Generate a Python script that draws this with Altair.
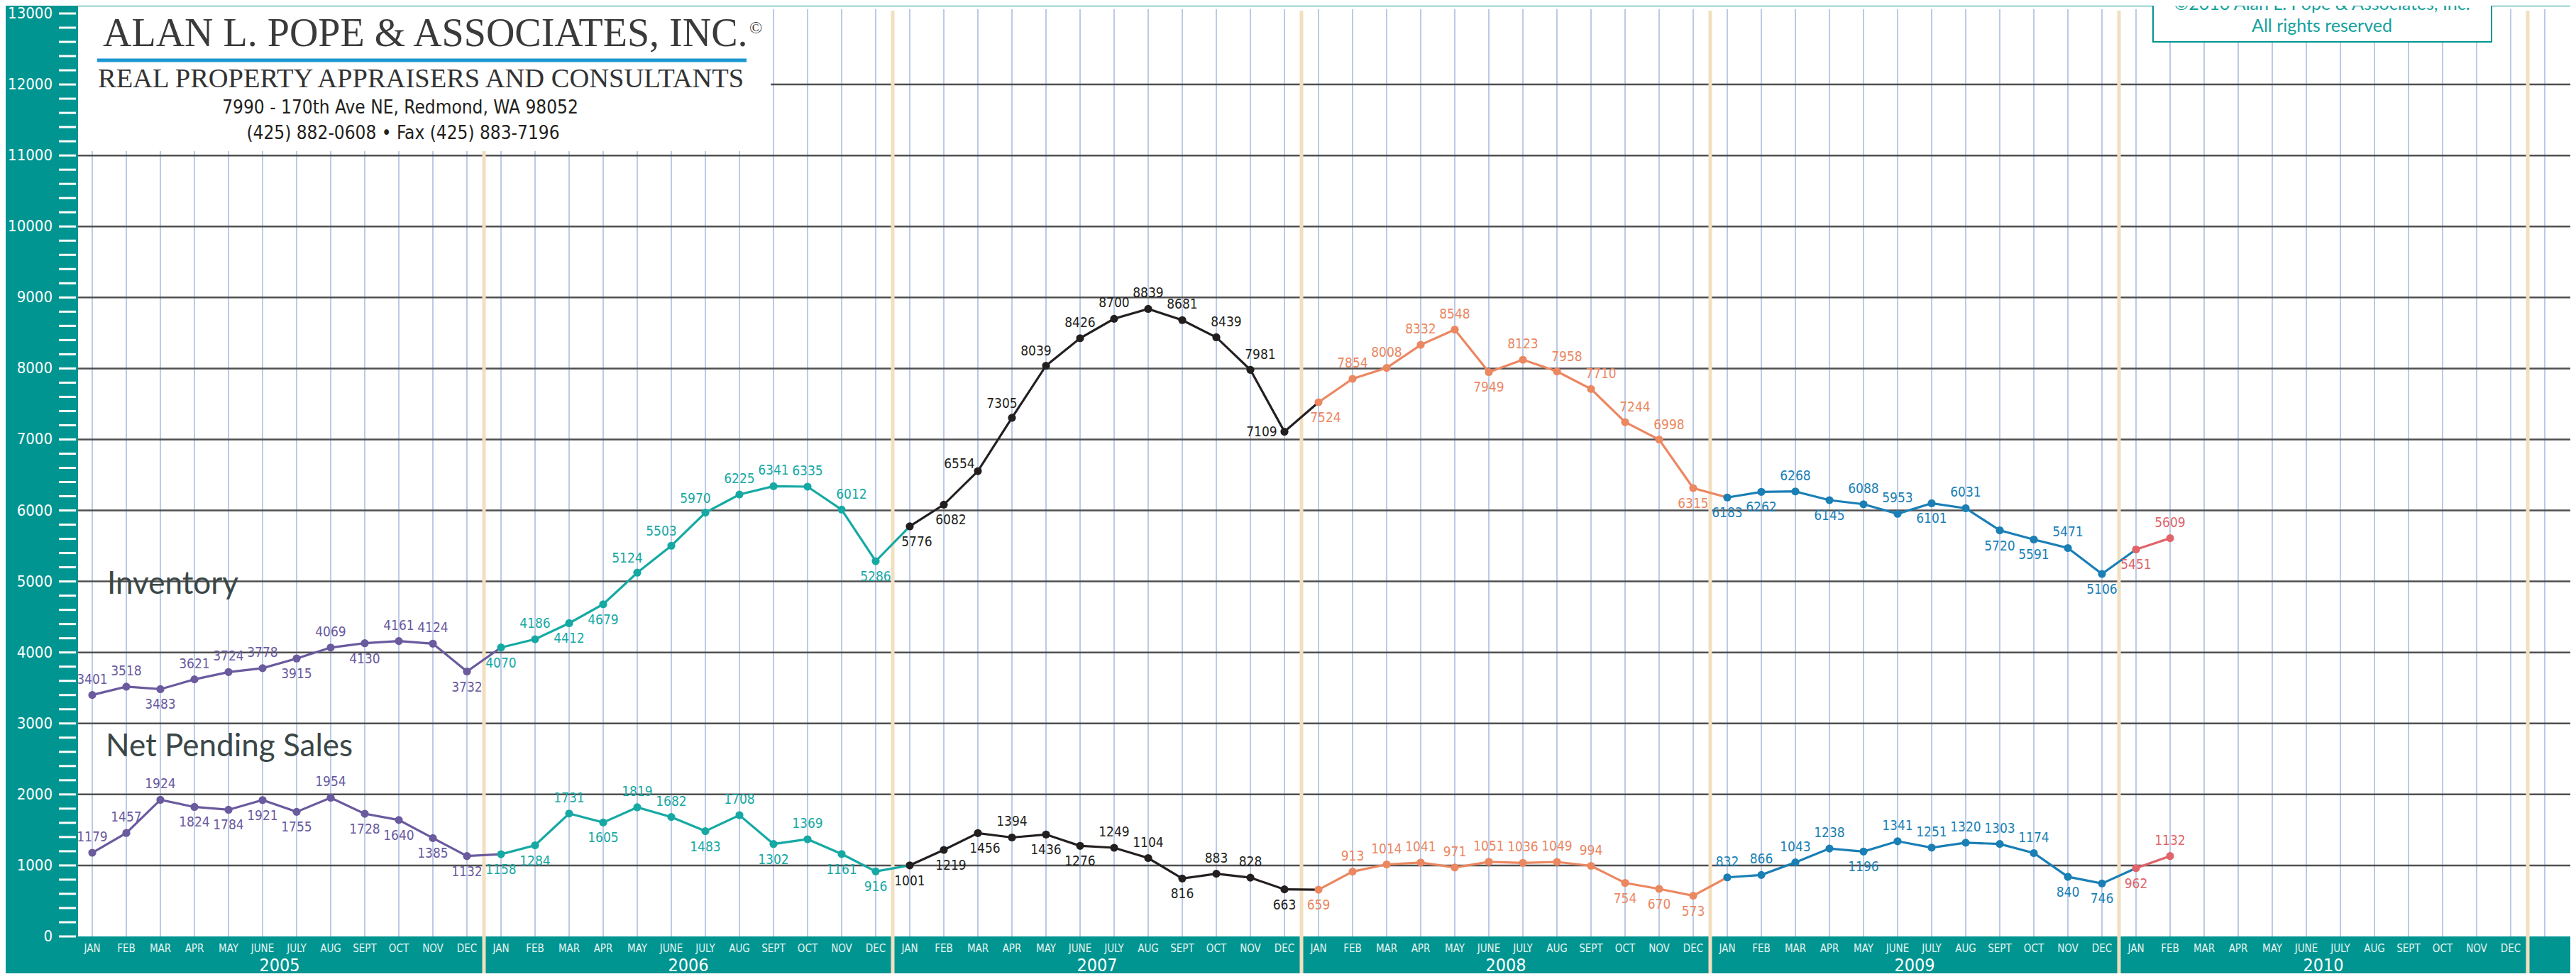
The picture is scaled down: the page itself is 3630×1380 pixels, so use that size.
import altair as alt
import pandas as pd

MONTHS = ["JAN", "FEB", "MAR", "APR", "MAY", "JUNE", "JULY", "AUG", "SEPT", "OCT", "NOV", "DEC"]
YEARS = ["2005", "2006", "2007", "2008", "2009", "2010"]
YEAR_COLORS = ["#6a5a9e", "#16a9a4", "#231f20", "#eb8761", "#1a7fb5", "#e0646a"]
Y_TICKS = list(range(0, 13001, 200))
Y_LABELS = list(range(0, 13001, 1000))
Y_GRID = list(range(1000, 12001, 1000))

inv_2005 = [3401, 3518, 3483, 3621, 3724, 3778, 3915, 4069, 4130, 4161, 4124, 3732]
inv_2006 = [4070, 4186, 4412, 4679, 5124, 5503, 5970, 6225, 6341, 6335, 6012, 5286]
inv_2007 = [5776, 6082, 6554, 7305, 8039, 8426, 8700, 8839, 8681, 8439, 7981, 7109]
inv_2008 = [7524, 7854, 8008, 8332, 8548, 7949, 8123, 7958, 7710, 7244, 6998, 6315]
inv_2009 = [6183, 6262, 6268, 6145, 6088, 5953, 6101, 6031, 5720, 5591, 5471, 5106]
inv_2010 = [5451, 5609]

pend_2005 = [1179, 1457, 1924, 1824, 1784, 1921, 1755, 1954, 1728, 1640, 1385, 1132]
pend_2006 = [1158, 1284, 1731, 1605, 1819, 1682, 1483, 1708, 1302, 1369, 1161, 916]
pend_2007 = [1001, 1219, 1456, 1394, 1436, 1276, 1249, 1104, 816, 883, 828, 663]
pend_2008 = [659, 913, 1014, 1041, 971, 1051, 1036, 1049, 994, 754, 670, 573]
pend_2009 = [832, 866, 1043, 1238, 1196, 1341, 1251, 1320, 1303, 1174, 840, 746]
pend_2010 = [962, 1132]

# label placement: A above, B below, AL/AR above-left/right, BR below-right, L left, UL up-left
inv_lab_2005 = ["A", "A", "B", "A", "A", "A", "B", "A", "B", "A", "A", "B"]
inv_lab_2006 = ["B", "A", "B", "B", "AL", "AL", "AL", "A", "A", "A", "AR", "B"]
inv_lab_2007 = ["BR", "BR", "UL", "AL", "AL", "A", "A", "A", "A", "AR", "AR", "L"]
inv_lab_2008 = ["BR", "A", "A", "A", "A", "B", "A", "AR", "AR", "AR", "AR", "B"]
inv_lab_2009 = ["B", "B", "A", "B", "A", "A", "B", "A", "B", "B", "A", "B"]
inv_lab_2010 = ["B", "A"]

pend_lab_2005 = ["A", "A", "A", "B", "B", "B", "B", "A", "B", "B", "B", "B"]
pend_lab_2006 = ["B", "B", "A", "B", "A", "A", "B", "A", "B", "A", "B", "B"]
pend_lab_2007 = ["B", "BR", "BR", "A", "B", "B", "A", "A", "B", "A", "A", "B"]
pend_lab_2008 = ["B", "A", "A", "A", "A", "A", "A", "A", "A", "B", "B", "B"]
pend_lab_2009 = ["A", "A", "A", "A", "B", "A", "A", "A", "A", "A", "B", "B"]
pend_lab_2010 = ["B", "A"]

inventory = [inv_2005, inv_2006, inv_2007, inv_2008, inv_2009, inv_2010]
pending = [pend_2005, pend_2006, pend_2007, pend_2008, pend_2009, pend_2010]
inv_labs = [inv_lab_2005, inv_lab_2006, inv_lab_2007, inv_lab_2008, inv_lab_2009, inv_lab_2010]
pend_labs = [pend_lab_2005, pend_lab_2006, pend_lab_2007, pend_lab_2008, pend_lab_2009, pend_lab_2010]

# ---------------- styling / layout ----------------
TEAL = "#009591"
BEIGE = "#f2dfbf"
GRIDBLUE = "#abbde1"
W, H = 3512, 1311
PAD_L, PAD_T, PAD_B = 102, 1, 52
MONTH_PX = 48
FIRST_PX = 20
COND_FONT = "'DejaVu Sans Condensed', 'Liberation Sans Narrow', sans-serif"
SERIF = "'Liberation Serif', 'Times New Roman', serif"
OFFSETS = {"A": (0, -22), "B": (0, 22), "AL": (-14, -20), "AR": (14, -21),
           "BR": (10, 22), "L": (-32, 0), "UL": (-26, -10)}

# ---------------- data tables ----------------
rows = []
line_rows = []
for series, vals_list, labs_list in [("Inventory", inventory, inv_labs),
                                     ("Net Pending Sales", pending, pend_labs)]:
    flat = []
    for yi, (vals, labs) in enumerate(zip(vals_list, labs_list)):
        for m, (v, p) in enumerate(zip(vals, labs)):
            flat.append({"series": series, "year": YEARS[yi], "idx": yi * 12 + m,
                         "value": v, "pos": p})
    rows += flat
    for yi in range(len(YEARS)):
        seg = [r for r in flat if r["year"] == YEARS[yi]]
        nxt = [r for r in flat if r["idx"] == (yi + 1) * 12]
        for r in seg + nxt:
            d = dict(r)
            d["seg"] = f"{series}-{YEARS[yi]}"
            d["lyear"] = YEARS[yi]
            line_rows.append(d)

df = pd.DataFrame(rows)
df_line = pd.DataFrame(line_rows)
df_sep = pd.DataFrame({"sep": [(i + 1) * 12 - 0.5 for i in range(len(YEARS))]})
df_year = pd.DataFrame({"mid": [i * 12 + 5.5 for i in range(len(YEARS))], "label": YEARS})
df_month = pd.DataFrame({"idx": list(range(0, 12 * len(YEARS))),
                         "label": MONTHS * len(YEARS)})
df_mgrid = pd.DataFrame({"idx": list(range(0, 12 * len(YEARS) + 1))})
df_yticks = pd.DataFrame({"v": Y_TICKS})
df_ylabels = pd.DataFrame({"v": Y_LABELS, "label": [str(v) for v in Y_LABELS]})
df_ygrid = pd.DataFrame({"g": Y_GRID})

xscale = alt.Scale(domain=[-FIRST_PX / MONTH_PX, (W - FIRST_PX) / MONTH_PX], nice=False, zero=False)
yscale = alt.Scale(domain=[0, 13100], nice=False, zero=True)
cscale = alt.Scale(domain=YEARS, range=YEAR_COLORS)

one = alt.Data(values=[{"k": 1}])

# teal frame (left band, bottom band, thin top band)
band_left = alt.Chart(one).mark_rect(fill=TEAL).encode(
    x=alt.value(-PAD_L), x2=alt.value(0), y=alt.value(-PAD_T), y2=alt.value(H + PAD_B))
band_bottom = alt.Chart(one).mark_rect(fill=TEAL).encode(
    x=alt.value(-PAD_L), x2=alt.value(W), y=alt.value(H), y2=alt.value(H + PAD_B))
band_top = alt.Chart(one).mark_rect(fill=TEAL).encode(
    x=alt.value(-PAD_L), x2=alt.value(W), y=alt.value(-PAD_T), y2=alt.value(0))

# month grid lines and labels (x axis)
mgrid = alt.Chart(df_mgrid).mark_rule(color=GRIDBLUE, strokeWidth=1.6).encode(
    x=alt.X("idx:Q", scale=xscale, axis=None), y=alt.value(4), y2=alt.value(H))
mlabels = alt.Chart(df_month).mark_text(font=COND_FONT, fontSize=15, color="#e4f3f2",
                                        baseline="top", align="center").encode(
    x=alt.X("idx:Q", scale=xscale, axis=None), y=alt.value(H + 10), text="label:N")
year_labels = alt.Chart(df_year).mark_text(font=COND_FONT, fontSize=25, color="white",
                                           baseline="middle", align="center").encode(
    x=alt.X("mid:Q", scale=xscale, axis=None), y=alt.value(H + 41), text="label:N")

# y axis: grid, ticks, labels
ygrid = alt.Chart(df_ygrid).mark_rule(color="#4f4f4f", strokeWidth=2.5).encode(
    y=alt.Y("g:Q", scale=yscale, axis=None))
yticks = alt.Chart(df_yticks).mark_rule(color="white", strokeWidth=3).encode(
    y=alt.Y("v:Q", scale=yscale, axis=None), x=alt.value(-27), x2=alt.value(-3))
ylabels = alt.Chart(df_ylabels).mark_text(font=COND_FONT, fontSize=22, color="white",
                                          align="right", baseline="middle").encode(
    y=alt.Y("v:Q", scale=yscale, axis=None), x=alt.value(-36), text="label:N")

sep_layer = alt.Chart(df_sep).mark_rule(color=BEIGE, strokeWidth=5).encode(
    x=alt.X("sep:Q", scale=xscale, axis=None),
    y=alt.value(6), y2=alt.value(H + PAD_B))

title_box = alt.Chart(one).mark_rect(fill="white").encode(
    x=alt.value(0), x2=alt.value(976), y=alt.value(0), y2=alt.value(204))
blue_bar = alt.Chart(one).mark_rule(color="#1b98d3", strokeWidth=5).encode(
    x=alt.value(27), x2=alt.value(942), y=alt.value(76))
t_name = alt.Chart(one).mark_text(font=SERIF, fontSize=56, color="#3a3a3a", align="left",
                                  baseline="alphabetic").encode(
    x=alt.value(35), y=alt.value(56), text=alt.value("ALAN L. POPE & ASSOCIATES, INC."))
t_copy = alt.Chart(one).mark_text(font=SERIF, fontSize=24, color="#3a3a3a", align="left",
                                  baseline="middle").encode(
    x=alt.value(946), y=alt.value(31), text=alt.value("©"))
t_sub = alt.Chart(one).mark_text(font=SERIF, fontSize=38.5, color="#333333", align="left",
                                 baseline="alphabetic").encode(
    x=alt.value(28), y=alt.value(114), text=alt.value("REAL PROPERTY APPRAISERS AND CONSULTANTS"))
t_addr = alt.Chart(one).mark_text(font=COND_FONT, fontSize=26, color="#231f20", align="center",
                                  baseline="middle").encode(
    x=alt.value(454), y=alt.value(143), text=alt.value("7990 - 170th Ave NE, Redmond, WA 98052"))
t_phone = alt.Chart(one).mark_text(font=COND_FONT, fontSize=26, color="#231f20", align="center",
                                   baseline="middle").encode(
    x=alt.value(458), y=alt.value(179), text=alt.value("(425) 882-0608 • Fax (425) 883-7196"))

c_box = alt.Chart(one).mark_rect(fill="white", stroke=TEAL, strokeWidth=2).encode(
    x=alt.value(2924), x2=alt.value(3401), y=alt.value(-10), y2=alt.value(50))
c_line1 = alt.Chart(one).mark_text(font="Lato", fontSize=25, color="#14a19c", align="center",
                                   baseline="alphabetic").encode(
    x=alt.value(3162), y=alt.value(5), text=alt.value("©2010 Alan L. Pope & Associates, Inc."))
c_line2 = alt.Chart(one).mark_text(font="Lato", fontSize=25, color="#14a19c", align="center",
                                   baseline="alphabetic").encode(
    x=alt.value(3162), y=alt.value(36), text=alt.value("All rights reserved"))

s_inv = alt.Chart(one).mark_text(font="Lato", fontSize=44, color="#3b4747", align="left",
                                 baseline="alphabetic").encode(
    x=alt.value(41), y=alt.value(828), text=alt.value("Inventory"))
s_pend = alt.Chart(one).mark_text(font="Lato", fontSize=44, color="#3b4747", align="left",
                                  baseline="alphabetic").encode(
    x=alt.value(39), y=alt.value(1057), text=alt.value("Net Pending Sales"))

lines = alt.Chart(df_line).mark_line(strokeWidth=3.2).encode(
    x=alt.X("idx:Q", scale=xscale, axis=None),
    y=alt.Y("value:Q", scale=yscale, axis=None),
    color=alt.Color("lyear:N", scale=cscale, legend=None),
    detail="seg:N",
)
points = alt.Chart(df).mark_circle(size=125, opacity=1).encode(
    x=alt.X("idx:Q", scale=xscale, axis=None),
    y=alt.Y("value:Q", scale=yscale, axis=None),
    color=alt.Color("year:N", scale=cscale, legend=None),
)
label_layers = []
for key, (dx, dy) in OFFSETS.items():
    label_layers.append(
        alt.Chart(df).transform_filter(alt.datum.pos == key).mark_text(
            font=COND_FONT, fontSize=19, dx=dx, dy=dy, align="center", baseline="middle"
        ).encode(
            x=alt.X("idx:Q", scale=xscale, axis=None),
            y=alt.Y("value:Q", scale=yscale, axis=None),
            color=alt.Color("year:N", scale=cscale, legend=None),
            text=alt.Text("value:Q", format="d"),
        )
    )

chart = alt.layer(
    band_left, band_bottom, band_top, mgrid, ygrid, yticks, ylabels, mlabels, year_labels,
    sep_layer, title_box, blue_bar, t_name, t_copy, t_sub, t_addr, t_phone,
    lines, points, *label_layers, s_inv, s_pend, c_box, c_line1, c_line2,
).properties(
    width=W, height=H,
    padding={"left": PAD_L, "top": PAD_T, "right": 0, "bottom": PAD_B},
    autosize=alt.AutoSizeParams(type="none"),
    background="white",
).configure_view(stroke=None)

chart.save("out.html", embed_options={"renderer": "svg", "actions": False})
